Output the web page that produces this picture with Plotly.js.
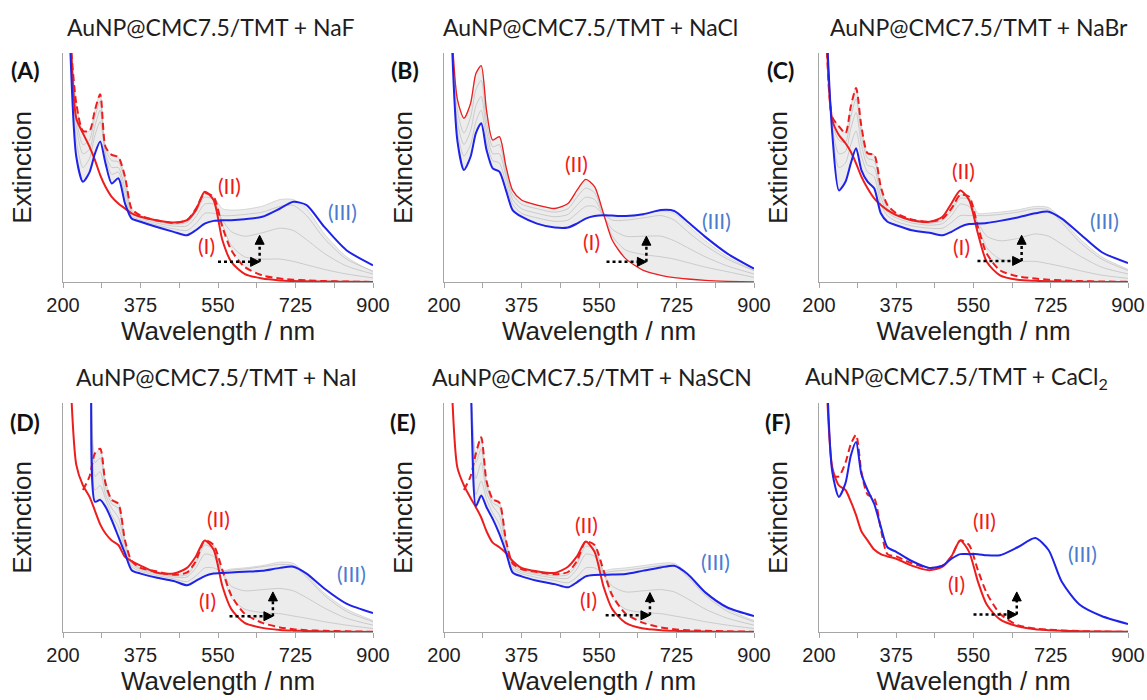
<!DOCTYPE html>
<html><head><meta charset="utf-8">
<script src="https://cdn.plot.ly/plotly-3.0.1.min.js"></script>
<style>html,body{margin:0;padding:0;background:#fff}#chart{width:1147px;height:700px}</style>
</head><body><div id="chart"></div>
<script>
// ---------- DATA ----------
const wavelength = [215, 230, 245, 260, 272, 284, 296, 310, 325, 340, 355, 375, 410, 450, 480, 500, 520, 540, 560, 580, 610, 650, 690, 720, 750, 790, 840, 900];
const xTickVals = [200, 287.5, 375, 462.5, 550, 637.5, 725, 812.5, 900];
const xTickText = ['200', '', '375', '', '550', '', '725', '', '900'];
const panelTitles = ['AuNP@CMC7.5/TMT + NaF', 'AuNP@CMC7.5/TMT + NaCl', 'AuNP@CMC7.5/TMT + NaBr',
                     'AuNP@CMC7.5/TMT + NaI', 'AuNP@CMC7.5/TMT + NaSCN', 'AuNP@CMC7.5/TMT + CaCl<sub>2</sub>'];
const panelLetters = ['(A)', '(B)', '(C)', '(D)', '(E)', '(F)'];
const stateLabels = ['(I)', '(II)', '(III)'];

// (A) NaF
const aRed     = [1.2, 0.715, 0.65, 0.59, 0.533, 0.467, 0.416, 0.372, 0.343, 0.321, 0.30, 0.285, 0.27, 0.26, 0.27, 0.314, 0.394, 0.358, 0.182, 0.088, 0.036, 0.015, 0.007, 0.004, 0.003, 0.002, 0.001, 0];
const aDash    = [1.1, 0.78, 0.66, 0.66, 0.75, 0.82, 0.59, 0.555, 0.545, 0.46, 0.32, 0.29, 0.27, 0.258, 0.27, 0.32, 0.387, 0.372, 0.24, 0.139, 0.066, 0.029, 0.015, 0.01, 0.007, 0.004, 0.002, 0];
const aBlue    = [1.1, 0.547, 0.438, 0.48, 0.56, 0.613, 0.518, 0.43, 0.453, 0.343, 0.277, 0.263, 0.241, 0.219, 0.204, 0.226, 0.255, 0.267, 0.27, 0.27, 0.274, 0.285, 0.321, 0.35, 0.336, 0.241, 0.139, 0.073];
const aGrayTop = [1.1, 0.78, 0.66, 0.66, 0.75, 0.82, 0.59, 0.555, 0.545, 0.46, 0.32, 0.29, 0.27, 0.258, 0.27, 0.32, 0.387, 0.372, 0.32, 0.314, 0.317, 0.331, 0.36, 0.36, 0.32, 0.21, 0.11, 0.044];
const aGrayBot = [1.1, 0.547, 0.438, 0.48, 0.56, 0.613, 0.518, 0.43, 0.453, 0.343, 0.277, 0.263, 0.241, 0.219, 0.204, 0.226, 0.255, 0.267, 0.24, 0.139, 0.066, 0.029, 0.015, 0.01, 0.007, 0.004, 0.002, 0];
const aGray1   = [1.1, 0.62, 0.5, 0.54, 0.64, 0.7, 0.55, 0.47, 0.48, 0.38, 0.29, 0.27, 0.25, 0.232, 0.225, 0.255, 0.3, 0.3, 0.29, 0.29, 0.295, 0.305, 0.33, 0.335, 0.29, 0.19, 0.1, 0.048];
const aGray2   = [1.1, 0.68, 0.56, 0.58, 0.68, 0.75, 0.56, 0.5, 0.5, 0.41, 0.3, 0.278, 0.258, 0.244, 0.245, 0.285, 0.34, 0.34, 0.27, 0.22, 0.2, 0.215, 0.235, 0.225, 0.185, 0.125, 0.07, 0.035];
const aGray3   = [1.1, 0.72, 0.6, 0.62, 0.72, 0.79, 0.58, 0.53, 0.525, 0.44, 0.31, 0.285, 0.265, 0.252, 0.26, 0.305, 0.37, 0.36, 0.25, 0.16, 0.11, 0.1, 0.1, 0.09, 0.075, 0.055, 0.035, 0.018];

// (B) NaCl
const bRed     = [1.2, 0.8, 0.715, 0.78, 0.91, 0.945, 0.75, 0.62, 0.635, 0.504, 0.40, 0.358, 0.336, 0.321, 0.343, 0.40, 0.448, 0.416, 0.30, 0.182, 0.102, 0.051, 0.029, 0.019, 0.013, 0.007, 0.003, 0];
const bBlue    = [1.2, 0.62, 0.489, 0.547, 0.65, 0.693, 0.577, 0.496, 0.482, 0.40, 0.314, 0.285, 0.255, 0.238, 0.238, 0.255, 0.277, 0.288, 0.292, 0.29, 0.288, 0.296, 0.314, 0.31, 0.263, 0.197, 0.124, 0.058];
const bGrayTop = [1.2, 0.8, 0.715, 0.78, 0.91, 0.945, 0.75, 0.62, 0.635, 0.504, 0.40, 0.358, 0.336, 0.321, 0.343, 0.40, 0.448, 0.416, 0.30, 0.29, 0.29, 0.298, 0.31, 0.30, 0.25, 0.18, 0.11, 0.05];
const bGrayBot = [1.2, 0.62, 0.489, 0.547, 0.65, 0.693, 0.577, 0.496, 0.482, 0.40, 0.314, 0.285, 0.255, 0.238, 0.238, 0.255, 0.277, 0.288, 0.292, 0.182, 0.102, 0.051, 0.029, 0.019, 0.013, 0.007, 0.003, 0];
const bGray1   = [1.2, 0.75, 0.65, 0.72, 0.84, 0.88, 0.70, 0.59, 0.60, 0.48, 0.38, 0.34, 0.32, 0.305, 0.32, 0.37, 0.41, 0.39, 0.3, 0.27, 0.27, 0.28, 0.29, 0.27, 0.22, 0.16, 0.1, 0.05];
const bGray2   = [1.2, 0.7, 0.6, 0.66, 0.77, 0.81, 0.66, 0.56, 0.56, 0.46, 0.36, 0.32, 0.3, 0.285, 0.295, 0.335, 0.37, 0.36, 0.29, 0.23, 0.2, 0.2, 0.2, 0.18, 0.15, 0.11, 0.07, 0.035];
const bGray3   = [1.2, 0.66, 0.55, 0.6, 0.7, 0.75, 0.62, 0.53, 0.52, 0.43, 0.34, 0.3, 0.28, 0.265, 0.27, 0.3, 0.33, 0.33, 0.29, 0.2, 0.14, 0.12, 0.11, 0.1, 0.085, 0.065, 0.045, 0.02];

// (C) NaBr
const cRed     = [1.2, 0.708, 0.642, 0.606, 0.569, 0.518, 0.46, 0.409, 0.365, 0.336, 0.314, 0.292, 0.27, 0.263, 0.285, 0.343, 0.40, 0.358, 0.212, 0.088, 0.029, 0.01, 0.005, 0.003, 0.002, 0.001, 0.0005, 0];
const cDash    = [1.2, 0.72, 0.68, 0.65, 0.766, 0.847, 0.68, 0.562, 0.555, 0.416, 0.336, 0.30, 0.273, 0.263, 0.277, 0.321, 0.38, 0.372, 0.24, 0.124, 0.051, 0.025, 0.015, 0.01, 0.007, 0.004, 0.002, 0.001];
const cBlue    = [1.2, 0.65, 0.40, 0.438, 0.518, 0.584, 0.489, 0.438, 0.409, 0.30, 0.263, 0.248, 0.226, 0.215, 0.204, 0.219, 0.241, 0.253, 0.255, 0.258, 0.267, 0.282, 0.30, 0.307, 0.277, 0.212, 0.131, 0.083];
const cGrayTop = [1.2, 0.72, 0.68, 0.65, 0.766, 0.847, 0.68, 0.562, 0.555, 0.416, 0.336, 0.30, 0.273, 0.263, 0.277, 0.321, 0.38, 0.372, 0.30, 0.30, 0.305, 0.315, 0.33, 0.325, 0.275, 0.19, 0.11, 0.055];
const cGrayBot = [1.2, 0.65, 0.40, 0.438, 0.518, 0.584, 0.489, 0.438, 0.409, 0.30, 0.263, 0.248, 0.226, 0.215, 0.204, 0.219, 0.241, 0.253, 0.24, 0.124, 0.051, 0.025, 0.015, 0.01, 0.007, 0.004, 0.002, 0.001];
const cGray1   = [1.2, 0.66, 0.5, 0.52, 0.6, 0.66, 0.55, 0.48, 0.46, 0.34, 0.29, 0.265, 0.245, 0.235, 0.235, 0.26, 0.29, 0.29, 0.29, 0.29, 0.295, 0.305, 0.32, 0.315, 0.26, 0.175, 0.1, 0.05];
const cGray2   = [1.2, 0.68, 0.56, 0.57, 0.67, 0.74, 0.6, 0.51, 0.5, 0.37, 0.305, 0.28, 0.258, 0.248, 0.255, 0.29, 0.34, 0.33, 0.26, 0.2, 0.18, 0.19, 0.21, 0.2, 0.165, 0.115, 0.065, 0.035];
const cGray3   = [1.2, 0.7, 0.62, 0.61, 0.72, 0.8, 0.64, 0.54, 0.53, 0.4, 0.32, 0.29, 0.266, 0.256, 0.268, 0.31, 0.365, 0.36, 0.25, 0.15, 0.1, 0.09, 0.09, 0.08, 0.068, 0.05, 0.03, 0.016];

// (D) NaI
const dRed     = [1.2, 0.73, 0.64, 0.59, 0.53, 0.47, 0.43, 0.40, 0.38, 0.328, 0.31, 0.29, 0.26, 0.255, 0.28, 0.33, 0.40, 0.36, 0.2, 0.1, 0.04, 0.018, 0.009, 0.006, 0.004, 0.002, 0.001, 0];
const dDash    = [null, null, 0.62, 0.68, 0.78, 0.8, 0.65, 0.577, 0.56, 0.40, 0.31, 0.28, 0.265, 0.25, 0.26, 0.31, 0.40, 0.38, 0.27, 0.16, 0.08, 0.04, 0.02, 0.012, 0.008, 0.005, 0.003, 0.001];
const dBlue    = [1.6, 1.6, 1.6, 1.5, 0.569, 0.577, 0.547, 0.489, 0.416, 0.343, 0.27, 0.255, 0.238, 0.223, 0.204, 0.223, 0.244, 0.255, 0.258, 0.26, 0.263, 0.267, 0.28, 0.285, 0.255, 0.19, 0.124, 0.083];
const dGrayTop = [1.6, 1.6, 1.6, 1.5, 0.78, 0.8, 0.66, 0.58, 0.565, 0.40, 0.31, 0.28, 0.265, 0.25, 0.26, 0.31, 0.40, 0.38, 0.27, 0.275, 0.28, 0.29, 0.305, 0.3, 0.25, 0.17, 0.1, 0.05];
const dGrayBot = [1.6, 1.6, 1.6, 1.5, 0.569, 0.577, 0.547, 0.489, 0.416, 0.343, 0.27, 0.255, 0.238, 0.223, 0.204, 0.223, 0.244, 0.255, 0.258, 0.16, 0.08, 0.04, 0.02, 0.012, 0.008, 0.005, 0.003, 0.001];
const dGray1   = [1.6, 1.6, 1.6, 1.5, 0.62, 0.64, 0.58, 0.51, 0.46, 0.36, 0.285, 0.265, 0.248, 0.232, 0.22, 0.245, 0.28, 0.28, 0.265, 0.27, 0.275, 0.285, 0.295, 0.29, 0.24, 0.16, 0.09, 0.045];
const dGray2   = [1.6, 1.6, 1.6, 1.5, 0.68, 0.7, 0.6, 0.54, 0.5, 0.38, 0.295, 0.272, 0.255, 0.24, 0.24, 0.28, 0.34, 0.33, 0.26, 0.2, 0.18, 0.185, 0.19, 0.18, 0.15, 0.105, 0.06, 0.03];
const dGray3   = [1.6, 1.6, 1.6, 1.5, 0.74, 0.76, 0.63, 0.56, 0.54, 0.39, 0.303, 0.277, 0.26, 0.245, 0.25, 0.3, 0.38, 0.36, 0.26, 0.15, 0.1, 0.085, 0.08, 0.07, 0.06, 0.045, 0.03, 0.015];

// (E) NaSCN
const eRed     = [1.2, 0.72, 0.64, 0.585, 0.545, 0.5, 0.44, 0.39, 0.37, 0.345, 0.31, 0.28, 0.265, 0.258, 0.285, 0.33, 0.395, 0.35, 0.2, 0.1, 0.04, 0.015, 0.008, 0.005, 0.003, 0.002, 0.001, 0];
const eDash    = [null, null, 0.62, 0.68, 0.78, 0.85, 0.66, 0.58, 0.565, 0.4, 0.3, 0.275, 0.262, 0.252, 0.262, 0.31, 0.395, 0.38, 0.27, 0.16, 0.08, 0.04, 0.02, 0.012, 0.008, 0.005, 0.003, 0.001];
const eBlue    = [1.6, 1.6, 1.6, 1.1, 0.55, 0.596, 0.545, 0.494, 0.428, 0.348, 0.26, 0.243, 0.224, 0.209, 0.195, 0.217, 0.243, 0.249, 0.25, 0.251, 0.253, 0.268, 0.282, 0.289, 0.253, 0.173, 0.107, 0.07];
const eGrayTop = [1.6, 1.6, 1.6, 1.1, 0.78, 0.85, 0.66, 0.58, 0.565, 0.4, 0.3, 0.275, 0.262, 0.252, 0.262, 0.31, 0.395, 0.38, 0.27, 0.275, 0.28, 0.29, 0.3, 0.3, 0.255, 0.17, 0.1, 0.05];
const eGrayBot = [1.6, 1.6, 1.6, 1.1, 0.55, 0.596, 0.545, 0.494, 0.428, 0.348, 0.26, 0.243, 0.224, 0.209, 0.195, 0.217, 0.243, 0.249, 0.25, 0.16, 0.08, 0.04, 0.02, 0.012, 0.008, 0.005, 0.003, 0.001];
const eGray1   = [1.6, 1.6, 1.6, 1.1, 0.6, 0.66, 0.58, 0.52, 0.47, 0.36, 0.275, 0.255, 0.238, 0.225, 0.215, 0.24, 0.28, 0.28, 0.26, 0.265, 0.27, 0.28, 0.29, 0.29, 0.24, 0.16, 0.09, 0.045];
const eGray2   = [1.6, 1.6, 1.6, 1.1, 0.67, 0.74, 0.61, 0.55, 0.51, 0.38, 0.285, 0.263, 0.248, 0.236, 0.235, 0.275, 0.34, 0.33, 0.255, 0.2, 0.175, 0.18, 0.185, 0.175, 0.145, 0.1, 0.06, 0.03];
const eGray3   = [1.6, 1.6, 1.6, 1.1, 0.74, 0.8, 0.64, 0.565, 0.545, 0.39, 0.293, 0.27, 0.255, 0.245, 0.25, 0.295, 0.375, 0.36, 0.26, 0.15, 0.1, 0.085, 0.08, 0.07, 0.06, 0.045, 0.03, 0.015];

// (F) CaCl2
const fRed     = [1.2, 0.72, 0.64, 0.62, 0.57, 0.51, 0.44, 0.40, 0.36, 0.34, 0.33, 0.32, 0.29, 0.27, 0.285, 0.33, 0.40, 0.35, 0.22, 0.12, 0.055, 0.025, 0.012, 0.008, 0.005, 0.003, 0.002, 0.001];
const fDash    = [null, 0.68, 0.68, 0.74, 0.82, 0.86, 0.70, 0.6, 0.585, 0.45, 0.34, 0.33, 0.3, 0.28, 0.29, 0.33, 0.4, 0.38, 0.27, 0.17, 0.08, 0.03, 0.015, 0.01, 0.007, 0.004, 0.002, 0.001];
const fBlue    = [1.3, 0.7, 0.59, 0.65, 0.77, 0.83, 0.69, 0.62, 0.56, 0.46, 0.37, 0.35, 0.31, 0.28, 0.29, 0.32, 0.34, 0.34, 0.34, 0.335, 0.335, 0.37, 0.41, 0.358, 0.219, 0.12, 0.07, 0.035];

// ---------- STYLE / PLACEMENT ----------
const W = 1147, H = 700;
const RED = '#ee1d1d', BLUE = '#1f23e8', GRAY = '#cdcdcd', MID = '#c2c2c2', FILL = '#ececec', LABBLUE = '#4a7bd0';
const AX = '#a6a6a6';
const panels = [
  {red: aRed, dash: aDash, blue: aBlue, top: aGrayTop, bot: aGrayBot, mids: [aGray1, aGray2, aGray3],
   px: [63, 373], py: [53, 282], tc: [211, 27], lc: [25, 70],
   arrow: {x0: 550, x1: 644, y0: 0.088, y1: 0.204}, lab: [[524, 0.16], [576, 0.423], [832, 0.307]]},
  {red: bRed, dash: null, blue: bBlue, top: bGrayTop, bot: bGrayBot, mids: [bGray1, bGray2, bGray3],
   px: [444, 754], py: [53, 282], tc: [590, 27], lc: [405, 70],
   arrow: {x0: 567, x1: 657, y0: 0.088, y1: 0.2}, lab: [[533, 0.175], [499, 0.518], [816, 0.27]]},
  {red: cRed, dash: cDash, blue: cBlue, top: cGrayTop, bot: cGrayBot, mids: [cGray1, cGray2, cGray3],
   px: [819, 1128], py: [53, 282], tc: [979, 27], lc: [780, 70],
   arrow: {x0: 559, x1: 659, y0: 0.092, y1: 0.204}, lab: [[523, 0.153], [527, 0.489], [847, 0.27]]},
  {red: dRed, dash: dDash, blue: dBlue, top: dGrayTop, bot: dGrayBot, mids: [dGray1, dGray2, dGray3],
   px: [63, 373], py: [403, 632], tc: [216, 377], lc: [25, 422],
   arrow: {x0: 576, x1: 674, y0: 0.069, y1: 0.175}, lab: [[527, 0.139], [550, 0.496], [851, 0.255]]},
  {red: eRed, dash: eDash, blue: eBlue, top: eGrayTop, bot: eGrayBot, mids: [eGray1, eGray2, eGray3],
   px: [444, 754], py: [403, 632], tc: [592, 377], lc: [403, 422],
   arrow: {x0: 565, x1: 665, y0: 0.073, y1: 0.172}, lab: [[526, 0.143], [522, 0.47], [812, 0.31]]},
  {red: fRed, dash: fDash, blue: fBlue, top: null, bot: null, mids: [],
   px: [819, 1128], py: [403, 632], tc: [956, 377], lc: [778, 422],
   arrow: {x0: 550, x1: 648, y0: 0.076, y1: 0.175}, lab: [[512, 0.212], [576, 0.489], [798, 0.343]]}
];

const traces = [];
const layout = {
  width: W, height: H, margin: {l: 0, r: 0, t: 0, b: 0},
  paper_bgcolor: '#fff', plot_bgcolor: 'rgba(0,0,0,0)', showlegend: false,
  annotations: [], shapes: []
};
const tickFont = {family: 'Liberation Sans, Arial, sans-serif', size: 20, color: '#1e1e1e'};
const titleFont = {family: 'Liberation Sans, Arial, sans-serif', size: 26, color: '#1e1e1e'};
const calFont = 'Lato, "Open Sans", sans-serif';

panels.forEach((p, i) => {
  const n = i + 1;
  const xr = n === 1 ? 'x' : 'x' + n, yr = n === 1 ? 'y' : 'y' + n;
  const line = (y, color, width, dash, fill) => {
    const t = {x: wavelength, y: y, xaxis: xr, yaxis: yr, type: 'scatter', mode: 'lines',
      line: {color: color, width: width, dash: dash || 'solid', shape: 'spline', smoothing: 0.7},
      hoverinfo: 'skip', connectgaps: false};
    if (fill) { t.fill = 'tonexty'; t.fillcolor = FILL; }
    return t;
  };
  if (p.bot) {
    traces.push(line(p.bot, 'rgba(0,0,0,0)', 0));
    traces.push(line(p.top, GRAY, 0.8, null, true));
  }
  p.mids.forEach(m => traces.push(line(m, MID, 0.8)));
  if (p.dash) traces.push(line(p.dash, RED, 2, '7px,4px'));
  traces.push(line(p.red, RED, p.dash ? 2 : 1.3));
  traces.push(line(p.blue, BLUE, 2));

  layout[n === 1 ? 'xaxis' : 'xaxis' + n] = {
    domain: [p.px[0] / W, p.px[1] / W], anchor: yr, range: [200, 900],
    tickmode: 'array', tickvals: xTickVals, ticktext: xTickText,
    ticks: 'outside', ticklen: 5, tickcolor: AX, tickwidth: 1,
    showline: true, linecolor: AX, linewidth: 1.3, showgrid: false, zeroline: false,
    tickfont: tickFont, ticklabelstandoff: 0,
    title: {text: 'Wavelength / nm', font: titleFont, standoff: 4}
  };
  layout[n === 1 ? 'yaxis' : 'yaxis' + n] = {
    domain: [1 - p.py[1] / H, 1 - p.py[0] / H], anchor: xr, range: [0, 1],
    showticklabels: false, ticks: '', showline: true, linecolor: AX, linewidth: 1.3,
    showgrid: false, zeroline: false,
    title: {text: 'Extinction', font: titleFont, standoff: 22}
  };
  layout.annotations.push({xref: 'paper', yref: 'paper', x: p.tc[0] / W, y: 1 - p.tc[1] / H,
    xanchor: 'center', yanchor: 'middle', showarrow: false, text: panelTitles[i],
    font: {family: calFont, size: 23, color: '#1e1e1e'}});
  layout.annotations.push({xref: 'paper', yref: 'paper', x: p.lc[0] / W, y: 1 - p.lc[1] / H,
    xanchor: 'center', yanchor: 'middle', showarrow: false, text: '<b>' + panelLetters[i] + '</b>',
    font: {family: calFont, size: 23, color: '#111'}});
  p.lab.forEach((pos, k) => {
    layout.annotations.push({xref: xr, yref: yr, x: pos[0], y: pos[1], xanchor: 'center', yanchor: 'middle',
      showarrow: false, text: stateLabels[k],
      font: {family: calFont, size: 21, color: k === 2 ? LABBLUE : '#f01818'}});
  });
  // dotted arrows with pixel-sized arrowheads
  const a = p.arrow;
  layout.shapes.push({type: 'line', xref: xr, yref: yr, x0: a.x0, x1: a.x1 - 6, y0: a.y0, y1: a.y0,
    line: {color: '#000', width: 2.5, dash: 'dot'}});
  layout.shapes.push({type: 'line', xref: xr, yref: yr, x0: a.x1, x1: a.x1, y0: a.y0, y1: a.y1 - 0.03,
    line: {color: '#000', width: 2.5, dash: 'dot'}});
  layout.shapes.push({type: 'path', xref: xr, yref: yr, xsizemode: 'pixel', ysizemode: 'pixel',
    xanchor: a.x1, yanchor: a.y0, path: 'M -9 4.5 L 0 0 L -9 -4.5 Z',
    fillcolor: '#000', line: {color: '#000', width: 1}});
  layout.shapes.push({type: 'path', xref: xr, yref: yr, xsizemode: 'pixel', ysizemode: 'pixel',
    xanchor: a.x1, yanchor: a.y1, path: 'M -4.5 -9 L 0 0 L 4.5 -9 Z',
    fillcolor: '#000', line: {color: '#000', width: 1}});
});

Plotly.newPlot('chart', traces, layout, {displayModeBar: false, staticPlot: true});
</script>
</body></html>
